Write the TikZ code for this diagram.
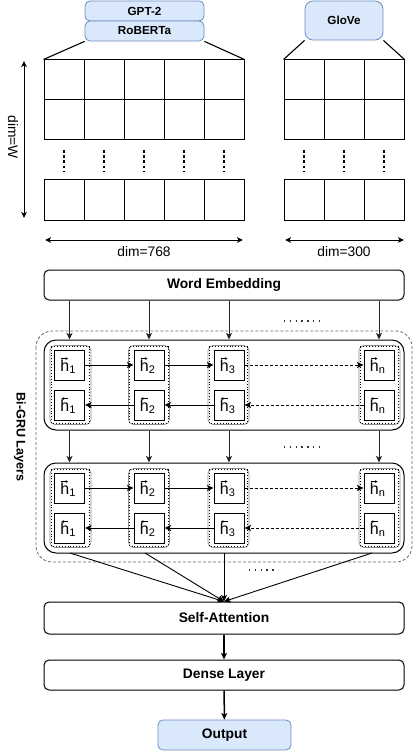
\documentclass[tikz,border=0pt]{standalone}
\usepackage{graphicx}
\usepackage{fontspec}
\setmainfont{Liberation Sans}
\usetikzlibrary{arrows.meta}
\definecolor{blueF}{HTML}{DAE8FC}
\definecolor{blueS}{HTML}{6C8EBF}
\newcommand\hsub[1]{{\fontsize{11}{11}\selectfont\raisebox{-2pt}{#1}}}
\tikzset{
  bigfont/.style={font=\fontsize{13.8}{16}\selectfont\bfseries},
  smallbold/.style={font=\fontsize{11.7}{14}\selectfont\bfseries},
  regfont/.style={font=\fontsize{13.8}{16}\selectfont},
  bluebox/.style={draw=blueS, fill=blueF, rounded corners=5pt, line width=0.8pt, inner sep=0pt},
  cell/.style={draw, line width=1pt, minimum size=40pt, inner sep=0pt},
  widebox/.style={draw, line width=1pt, rounded corners=5pt, minimum width=360pt, inner sep=0pt, bigfont},
  layerbox/.style={draw, line width=1pt, rounded corners=12pt, minimum width=360pt, minimum height=90pt, inner sep=0pt},
  grp/.style={draw=black!45, line width=0.7pt, rounded corners=5pt, minimum width=41pt, minimum height=79pt, inner sep=0pt},
  hbox/.style={draw, line width=1pt, minimum size=30pt, inner sep=0pt},
  htext/.style={inner sep=0pt, anchor=base, font=\fontsize{16}{18}\selectfont},
  accarr/.style={-{Stealth[length=2.6pt,width=2.8pt]}, line width=0.6pt},
  arr/.style={-{Stealth[length=6.5pt,width=6pt,inset=1.5pt]}, line width=0.9pt},
  darr/.style={arr, dashed, dash pattern=on 3pt off 2pt},
  vdots/.style={line width=2.6pt, dash pattern=on 2.6pt off 2.6pt},
  hdots/.style={line width=1.4pt, dash pattern=on 1.4pt off 4.4pt, black!80},
}
\begin{document}
\begin{tikzpicture}[x=1pt,y=-1pt]
\useasboundingbox (0,0) rectangle (414,751);

% embedding sources
\node[bluebox, smallbold, minimum width=119pt, minimum height=20pt] (gpt) at (144.5,11) {GPT-2};
\node[bluebox, smallbold, minimum width=119pt, minimum height=20pt] (rob) at (144.5,31) {RoBERTa};
\node[bluebox, smallbold, rounded corners=8pt, minimum width=78pt, minimum height=39pt] (glove) at (344,20.5) {GloVe};

% grids
\foreach \c/\x in {1/64,2/104,3/144,4/184,5/224}{
  \node[cell] (a1\c) at (\x,80) {};
  \node[cell] (a2\c) at (\x,120) {};
  \node[cell] (a3\c) at (\x,200) {};
  \draw[vdots] (\x,150) -- (\x,171);
}
\foreach \c/\x in {1/304,2/344,3/384}{
  \node[cell] (b1\c) at (\x,80) {};
  \node[cell] (b2\c) at (\x,120) {};
  \node[cell] (b3\c) at (\x,200) {};
  \draw[vdots] (\x,150) -- (\x,171);
}
\draw[line width=1.1pt] (rob.south west) -- (a11.north west);
\draw[line width=1.1pt] (rob.south east) -- (a15.north east);
\draw[line width=1.1pt] (glove.south west) -- (b11.north west);
\draw[line width=1.1pt] (glove.south east) -- (b13.north east);

% dimension arrows
\coordinate (vt) at (24,61);
\coordinate (vb) at (24,218);
\draw[{Stealth[length=6pt,width=5.5pt,inset=1.5pt]}-{Stealth[length=6pt,width=5.5pt,inset=1.5pt]}, line width=0.9pt] (vt) -- (vb);
\node[regfont, rotate=-90] (dimw) at (13,137) {dim=W};
\coordinate (h1l) at (45,240);
\coordinate (h1r) at (243,240);
\coordinate (h2l) at (285,240);
\coordinate (h2r) at (404,240);
\draw[{Stealth[length=6pt,width=5.5pt,inset=1.5pt]}-{Stealth[length=6pt,width=5.5pt,inset=1.5pt]}, line width=0.9pt] (h1l) -- (h1r);
\draw[{Stealth[length=6pt,width=5.5pt,inset=1.5pt]}-{Stealth[length=6pt,width=5.5pt,inset=1.5pt]}, line width=0.9pt] (h2l) -- (h2r);
\node[regfont] (d768) at (144,252) {dim=768};
\node[regfont] (d300) at (344,252) {dim=300};

% word embedding
\node[widebox, minimum height=30pt] (we) at (224,285) {Word Embedding};

% outer dashed container
\draw[black!60, dashed, dash pattern=on 3pt off 2pt, line width=0.8pt, rounded corners=16pt] (36,331) rectangle (412,562);
\node[font=\fontsize{12.6}{15}\selectfont\bfseries, rotate=-90] (bigru) at (20,437) {Bi-GRU Layers};

% layers
\foreach \L/\yc in {1/385,2/508}{
  \node[layerbox] (lay\L) at (224,\yc) {};
  \foreach \i/\gx/\bx/\n in {1/70.5/69.5/1,2/149/149/2,3/228.5/229/3,4/379.5/379/n}{
    \node[grp] (g\L\i) at (\gx,\yc) {};
    \draw[dotted, line width=0.9pt] ([shift={(1.6,1.6)}]g\L\i.north west) rectangle ([shift={(-1.6,-1.6)}]g\L\i.south east);
    \node[hbox] (f\L\i) at (\bx,\yc-20) {};
    \node[hbox] (r\L\i) at (\bx,\yc+20) {};
    \node[htext] (tf\L\i) at (\bx-1.5,\yc-14) {h\hsub{\n}};
    \node[htext] (tr\L\i) at (\bx-1.5,\yc+26) {h\hsub{\n}};
    \draw[accarr] ([shift={(1.1,-0.6)}]tf\L\i.north west) -- ([shift={(7.8,-0.6)}]tf\L\i.north west);
    \draw[accarr] ([shift={(7.8,-0.6)}]tr\L\i.north west) -- ([shift={(1.1,-0.6)}]tr\L\i.north west);
  }
  \draw[arr] (f\L1) -- (f\L2);
  \draw[arr] (f\L2) -- (f\L3);
  \draw[darr] (f\L3) -- (f\L4);
  \draw[arr] (r\L2) -- (r\L1);
  \draw[arr] (r\L3) -- (r\L2);
  \draw[darr] (r\L4) -- (r\L3);
}

% vertical connectors
\foreach \i in {1,2,3,4}{
  \draw[arr, black!85] (we.south -| f1\i) -- (lay1.north -| f1\i);
  \draw[arr, black!85] (lay1.south -| f1\i) -- (lay2.north -| f1\i);
}
\draw[hdots] (284,321) -- (324,321);
\draw[hdots] (284,447) -- (324,447);

% self-attention
\node[widebox, minimum height=32pt] (sa) at (224,618) {Self-Attention};
\coordinate (s1) at (70,553);
\coordinate (s2) at (145,553);
\coordinate (s3) at (224,553);
\coordinate (s4) at (372,553);
\foreach \s in {s1,s2,s3,s4}{
  \draw[arr] (\s) -- (sa.north);
}
\draw[hdots] (249,570) -- (278,570);

\node[widebox, minimum height=30pt] (dense) at (224,675) {Dense Layer};
\node[bluebox, bigfont, minimum width=133pt, minimum height=30pt] (out) at (224.5,735) {Output};
\draw[arr, line width=1.5pt] (sa) -- (dense);
\draw[arr, line width=1.5pt] (dense) -- (out);
\end{tikzpicture}
\end{document}
